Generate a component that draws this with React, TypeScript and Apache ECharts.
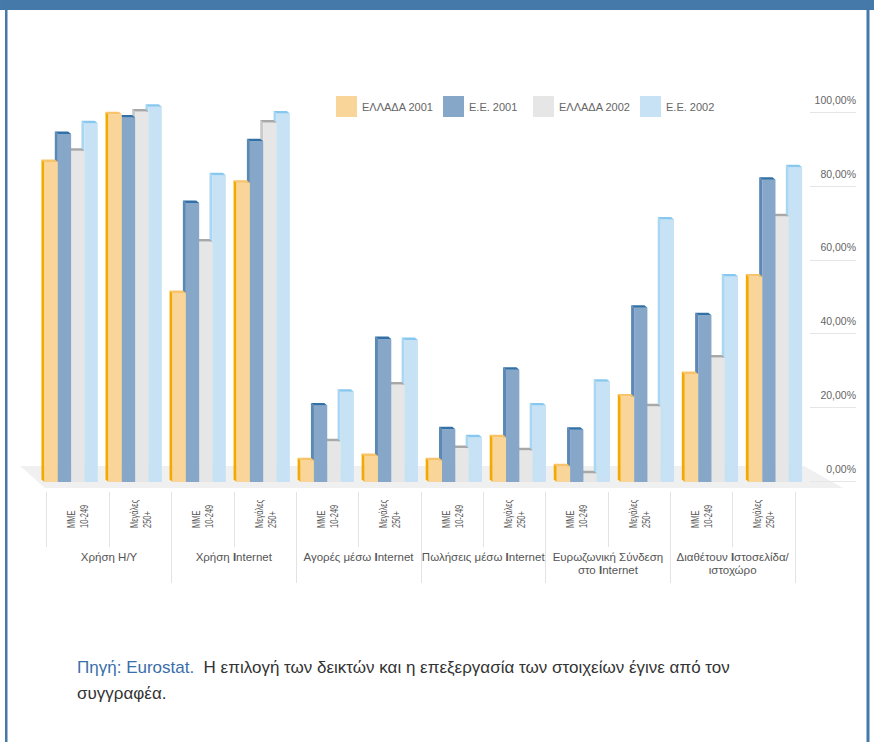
import React, { useEffect, useRef } from 'react';
import * as echarts from 'echarts';

const subCategories = [
  'ΜΜΕ\n10-249', 'Μεγάλες\n250+',
  'ΜΜΕ\n10-249', 'Μεγάλες\n250+',
  'ΜΜΕ\n10-249', 'Μεγάλες\n250+',
  'ΜΜΕ\n10-249', 'Μεγάλες\n250+',
  'ΜΜΕ\n10-249', 'Μεγάλες\n250+',
  'ΜΜΕ\n10-249', 'Μεγάλες\n250+',
];
const groups = [
  'Χρήση Η/Υ',
  'Χρήση Internet',
  'Αγορές μέσω Internet',
  'Πωλήσεις μέσω Internet',
  'Ευρωζωνική Σύνδεση\nστο Internet',
  'Διαθέτουν Ιστοσελίδα/\nιστοχώρο',
];
const seriesNames = ['ΕΛΛΑΔΑ 2001', 'Ε.Ε. 2001', 'ΕΛΛΑΔΑ 2002', 'Ε.Ε. 2002'];
const greece2001 = [85, 97.7, 50.2, 79.5, 5.8, 6.9, 5.8, 11.9, 4.2, 22.7, 28.7, 54.6];
const eu2001 = [92.4, 96.8, 74.1, 90.5, 20.3, 38, 14, 29.8, 13.9, 46.3, 44.3, 80.3];
const greece2002 = [88, 98.4, 63.9, 95.5, 10.8, 25.9, 9, 8.4, 2.3, 20.1, 33.1, 70.6];
const eu2002 = [95.3, 99.7, 81.5, 97.9, 24, 37.7, 11.9, 20.3, 26.6, 69.7, 54.6, 83.6];
const yTickLabels = ['0,00%', '20,00%', '40,00%', '60,00%', '80,00%', '100,00%'];

const seriesValues = [greece2001, eu2001, greece2002, eu2002];
const palettes = [
  { front: '#FAD59A', side: '#F3A900', cap: '#F8C36A' },
  { front: '#87A7C9', side: '#5B88B5', cap: '#3270A6' },
  { front: '#E6E6E6', side: '#CACACA', cap: '#A8A8A8' },
  { front: '#C6E2F4', side: '#AAD6F2', cap: '#88C8EF' },
];
const legendLefts = [336, 443, 533, 640];
const FONT = '"Liberation Sans", Arial, Helvetica, sans-serif';

function makeRenderItem(k: number) {
  const pal = palettes[k];
  return (params: any, api: any) => {
    const idx = api.value(0);
    const v = api.value(1);
    const base = api.coord([idx, 0]);
    const top = api.coord([idx, v]);
    const band = api.size([1, 0])[0];
    const w = band * 0.208;
    const x0 = base[0] - 2 * w + k * w;
    const dx = 3;
    const dy = 2.5;
    const yt = top[1];
    const yb = base[1];
    return {
      type: 'group',
      children: [
        {
          type: 'polygon',
          shape: { points: [[x0, yt], [x0 - dx, yt - dy], [x0 - dx, yb - dy], [x0, yb]] },
          style: { fill: pal.side },
        },
        {
          type: 'rect',
          shape: { x: x0, y: yt, width: w, height: yb - yt },
          style: { fill: pal.front },
        },
        {
          type: 'polygon',
          shape: { points: [[x0, yt], [x0 + w, yt], [x0 + w - dx, yt - dy], [x0 - dx, yt - dy]] },
          style: { fill: pal.cap },
        },
      ],
    };
  };
}

export default function App() {
  const ref = useRef<HTMLDivElement>(null);
  useEffect(() => {
    if (!ref.current) return;
    const chart = echarts.init(ref.current, undefined, { renderer: 'svg' });
    const option: any = {
      animation: false,
      backgroundColor: '#ffffff',
      textStyle: { fontFamily: FONT },
      legend: seriesNames.map((n, i) => ({
        data: [{ name: n, icon: 'rect' }],
        left: legendLefts[i],
        top: 96,
        padding: 0,
        itemWidth: 21,
        itemHeight: 21,
        itemGap: 0,
        selectedMode: false,
        textStyle: { color: '#666', fontSize: 11, fontFamily: FONT },
      })),
      grid: [
        { left: 39.1, width: 768.4, top: 105.5, height: 376.5 },
        { left: 46.7, width: 748.3, top: 105.5, height: 386.5 },
        { left: 810, width: 46, top: 112.4, height: 368.6 },
        { left: 46.7, width: 748.3, top: 105.5, height: 386.5 },
      ],
      xAxis: [
        { type: 'category', gridIndex: 0, data: subCategories, show: false },
        {
          type: 'category',
          gridIndex: 1,
          data: subCategories,
          position: 'bottom',
          axisLine: { show: false },
          axisTick: { show: true, interval: 0, length: 55, lineStyle: { color: '#e3e3e3', width: 1 } },
          axisLabel: { show: false },
        },
        { type: 'value', gridIndex: 2, show: false },
        {
          type: 'category',
          gridIndex: 3,
          data: groups,
          position: 'bottom',
          axisLine: { show: false },
          axisTick: {
            show: true,
            interval: (index: number) => index !== 0,
            length: 91,
            lineStyle: { color: '#e3e3e3', width: 1 },
          },
          axisLabel: {
            interval: 0,
            margin: 58,
            fontSize: 11.5,
            lineHeight: 13.5,
            color: '#555',
            fontFamily: FONT,
            formatter: (v: string) => v.replace(/[IΙ]/g, (m) => '{i|' + m + '}'),
            rich: {
              i: { fontWeight: 'bold', fontSize: 11.5, lineHeight: 13.5, color: '#555', fontFamily: FONT },
            },
          },
        },
      ],
      yAxis: [
        { type: 'value', gridIndex: 0, min: 0, max: 100, show: false },
        { type: 'value', gridIndex: 1, min: 0, max: 100, show: false },
        {
          type: 'value',
          gridIndex: 2,
          min: 0,
          max: 100,
          interval: 20,
          position: 'right',
          axisLine: { show: false },
          axisTick: { show: false },
          splitLine: { show: true, lineStyle: { color: '#e6e6e6', width: 1 } },
          axisLabel: {
            inside: true,
            margin: 0,
            verticalAlign: 'bottom',
            padding: [0, 0, 7, 0],
            fontSize: 10.5,
            color: '#666',
            fontFamily: FONT,
            formatter: (v: number) => yTickLabels[Math.round(v / 20)],
          },
        },
        { type: 'value', gridIndex: 3, min: 0, max: 100, show: false },
      ],
      series: seriesNames.map((n, k) => ({
        name: n,
        type: 'custom',
        xAxisIndex: 0,
        yAxisIndex: 0,
        z: 10 - k,
        itemStyle: { color: palettes[k].front },
        renderItem: makeRenderItem(k),
        data: seriesValues[k].map((v, i) => [i, v]),
      })),
    };
    chart.setOption(option);

    // Condensed rotated sub-category labels, positioned from the label axis' own scale
    const labelBaseY = 528;
    const subLabelGraphics = subCategories.map((t, i) => {
      const x = chart.convertToPixel({ xAxisIndex: 1 }, i) as number;
      return {
        type: 'text',
        silent: true,
        x,
        y: labelBaseY,
        rotation: Math.PI / 2,
        scaleX: 0.68,
        style: {
          text: t,
          fontFamily: FONT,
          fontSize: 11,
          lineHeight: 13,
          fill: '#555',
          align: 'left',
          verticalAlign: 'middle',
        },
      };
    });

    chart.setOption({
      graphic: [
        {
          type: 'polygon',
          z: -10,
          silent: true,
          shape: { points: [[20, 466], [804, 466], [843, 488], [45, 488]] },
          style: { fill: '#f0f0f0' },
        },
        { type: 'rect', silent: true, shape: { x: 0, y: 0, width: 874, height: 10 }, style: { fill: '#4479AA' } },
        { type: 'rect', silent: true, shape: { x: 5, y: 0, width: 2.5, height: 742 }, style: { fill: '#4479AA' } },
        { type: 'rect', silent: true, shape: { x: 866.5, y: 0, width: 3, height: 742 }, style: { fill: '#4479AA' } },
        {
          type: 'text',
          silent: true,
          left: 77,
          top: 654,
          style: {
            text: '{a|Πηγή: Eurostat.}{b|  Η επιλογή των δεικτών και η επεξεργασία των στοιχείων έγινε από τον}\n{b|συγγραφέα.}',
            fontFamily: FONT,
            fontSize: 17,
            lineHeight: 26,
            rich: {
              a: { fill: '#3A6EAA', fontSize: 17, fontFamily: FONT, lineHeight: 26 },
              b: { fill: '#333333', fontSize: 17, fontFamily: FONT, lineHeight: 26 },
            },
          },
        },
        ...subLabelGraphics,
      ],
    });
    return () => chart.dispose();
  }, []);
  return (
    <div
      ref={ref}
      style={{ position: 'absolute', left: 0, top: 0, width: 874, height: 742, background: '#fff' }}
    />
  );
}
